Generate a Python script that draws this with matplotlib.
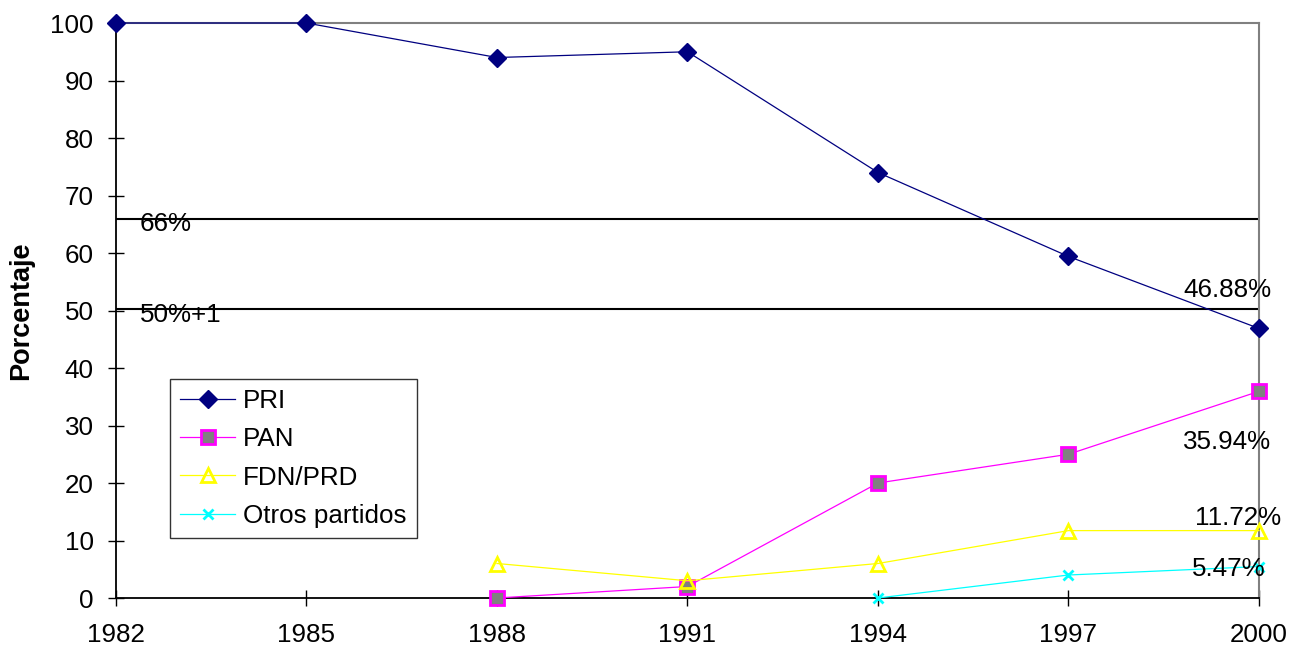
import matplotlib.pyplot as plt

years = [1982, 1985, 1988, 1991, 1994, 1997, 2000]
pri = [100, 100, 94, 95, 74, 59.4, 46.88]
pan_years = [1988, 1991, 1994, 1997, 2000]
pan = [0, 2, 20, 25, 35.94]
prd_years = [1988, 1991, 1994, 1997, 2000]
prd = [6, 3, 6, 11.72, 11.72]
otros_years = [1994, 1997, 2000]
otros = [0, 4.0, 5.47]
thresholds = [66, 50.2]
threshold_labels = ['66%', '50%+1']

plt.rcParams['font.family'] = ['Liberation Sans', 'DejaVu Sans']
FS = 18.7

fig = plt.figure(figsize=(12.97, 6.5), dpi=100)
ax = fig.add_axes([0.0894, 0.08, 0.8813, 0.8846])

for y, lab in zip(thresholds, threshold_labels):
    ax.axhline(y, color='black', linewidth=1.5, zorder=1)
    ax.text(1982.38, y - 1.0, lab, fontsize=FS, va='center', ha='left')

ax.plot(years, pri, color='#000080', linewidth=0.9, marker='D', markersize=9,
        markerfacecolor='#000080', markeredgecolor='#000080', label='PRI', zorder=4, clip_on=False)
ax.plot(pan_years, pan, color='#ff00ff', linewidth=0.9, marker='s', markersize=10,
        markerfacecolor='#808080', markeredgecolor='#ff00ff', markeredgewidth=2,
        label='PAN', zorder=3, clip_on=False)
ax.plot(prd_years, prd, color='#ffff00', linewidth=0.9, marker='^', markersize=10,
        markerfacecolor='none', markeredgecolor='#ffff00', markeredgewidth=2,
        label='FDN/PRD', zorder=3, clip_on=False)
ax.plot(otros_years, otros, color='#00ffff', linewidth=0.9, marker='x', markersize=7,
        markeredgewidth=2, label='Otros partidos', zorder=3, clip_on=False)

# value labels next to the last point of each series
ax.text(2000.19, pri[-1] + 6.7, f'{pri[-1]:.2f}%', fontsize=FS, ha='right', va='center')
ax.text(2000.19, pan[-1] - 8.8, f'{pan[-1]:.2f}%', fontsize=FS, ha='right', va='center')
ax.text(2000.35, prd[-1] + 2.2, f'{prd[-1]:.2f}%', fontsize=FS, ha='right', va='center')
ax.text(2000.1, otros[-1] - 0.5, f'{otros[-1]:.2f}%', fontsize=FS, ha='right', va='center')

ax.set_xlim(1982, 2000)
ax.set_ylim(0, 100)
ax.set_xticks(years)
ax.set_yticks(range(0, 101, 10))
ax.tick_params(axis='both', direction='inout', length=12, width=1, labelsize=FS)
ax.tick_params(axis='x', pad=12)
ax.tick_params(axis='y', pad=10)
ax.set_ylabel('Porcentaje', fontsize=19.5, fontweight='bold')
ax.yaxis.set_label_coords(-0.0717, 0.5)

for side in ['left', 'bottom']:
    ax.spines[side].set_color('black')
    ax.spines[side].set_linewidth(1.3)
for side in ['top', 'right']:
    ax.spines[side].set_color('#808080')
    ax.spines[side].set_linewidth(1.5)

leg = ax.legend(loc='lower left', bbox_to_anchor=(0.0472, 0.104), borderaxespad=0,
                fontsize=FS, frameon=True, fancybox=False, edgecolor='black',
                borderpad=0.4, handlelength=2.1, labelspacing=0.55, handletextpad=0.3)
leg.get_frame().set_linewidth(1)

fig.savefig('out.png', dpi=100)
